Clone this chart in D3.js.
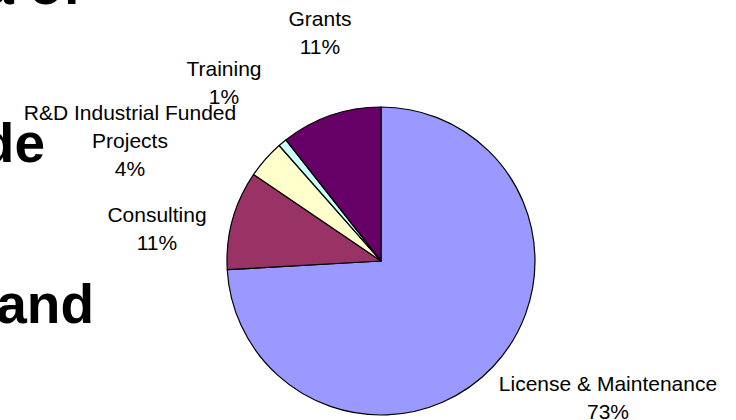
<!DOCTYPE html>
<html>
<head>
<meta charset="utf-8">
<script src="https://cdn.jsdelivr.net/npm/d3@7"></script>
<style>
  body { margin: 0; background: #fff; }
  svg { display: block; }
</style>
</head>
<body>
<div id="chart"></div>
<script>
// slices, clockwise from 12 o'clock
var categories = ["License & Maintenance", "Consulting", "R&D Industrial Funded Projects", "Training", "Grants"];
var values = [74.1, 10.4, 4.0, 0.9, 10.6];
var pctLabels = ["73%", "11%", "4%", "1%", "11%"];
// label text split over lines as in the slide
var labelLines = [
  ["License & Maintenance"],
  ["Consulting"],
  ["R&D Industrial Funded", "Projects"],
  ["Training"],
  ["Grants"]
];
// leftovers of the slide title behind the chart
var bgLines = ["a of", "de", "and"];

var width = 736,
  height = 420,
  radius = 154;
var cx = 381, cy = 261;

var colors = {
  "License & Maintenance": "#9999ff",
  "Consulting": "#993366",
  "R&D Industrial Funded Projects": "#ffffcc",
  "Training": "#ccffff",
  "Grants": "#660066"
};

// where excel put each label (centre x, first baseline)
var labelPos = {
  "License & Maintenance": [608, 391],
  "Consulting": [157, 222],
  "R&D Industrial Funded Projects": [130, 120],
  "Training": [224, 76],
  "Grants": [320, 26]
};
var lineGap = 28;

var svg = d3.select("#chart")
  .append("svg")
  .attr("width", width)
  .attr("height", height)
  .style("font-family", "'Liberation Sans', Arial, Helvetica, sans-serif");

svg.append("rect")
  .attr("width", width)
  .attr("height", height)
  .attr("fill", "#fff");

//background title pieces, cut off at the left
var bgPos = [[81, 4], [45, 162], [94, 323]];
svg.selectAll("text.bg")
  .data(bgLines)
  .enter().append("text")
  .attr("class", "bg")
  .attr("x", function(d, i) { return bgPos[i][0]; })
  .attr("y", function(d, i) { return bgPos[i][1]; })
  .attr("text-anchor", "end")
  .style("font-size", "55px")
  .style("font-weight", "bold")
  .attr("fill", "#000")
  .text(function(d) { return d; });

var data = categories.map(function(c, i) {
  return { name: c, value: values[i], pct: pctLabels[i], lines: labelLines[i] };
});

var pie = d3.pie()
  .sort(null)
  .value(function(d) { return d.value; });

var arc = d3.arc()
  .innerRadius(0)
  .outerRadius(radius);

var g = svg.append("g")
  .attr("transform", "translate(" + cx + "," + cy + ")");

g.selectAll("path")
  .data(pie(data))
  .enter().append("path")
  .attr("d", arc)
  .attr("fill", function(d) { return colors[d.data.name]; })
  .attr("stroke", "#000")
  .attr("stroke-width", 1.2)
  .attr("stroke-linejoin", "round");

//labels
var lab = svg.selectAll("text.lab")
  .data(data)
  .enter().append("text")
  .attr("class", "lab")
  .attr("text-anchor", "middle")
  .style("font-size", "21px")
  .attr("fill", "#000");

lab.each(function(d) {
  var t = d3.select(this);
  var p = labelPos[d.name];
  d.lines.concat([d.pct]).forEach(function(s, k) {
    t.append("tspan")
      .attr("x", p[0])
      .attr("y", p[1] + k * lineGap)
      .text(s);
  });
});
</script>
</body>
</html>
